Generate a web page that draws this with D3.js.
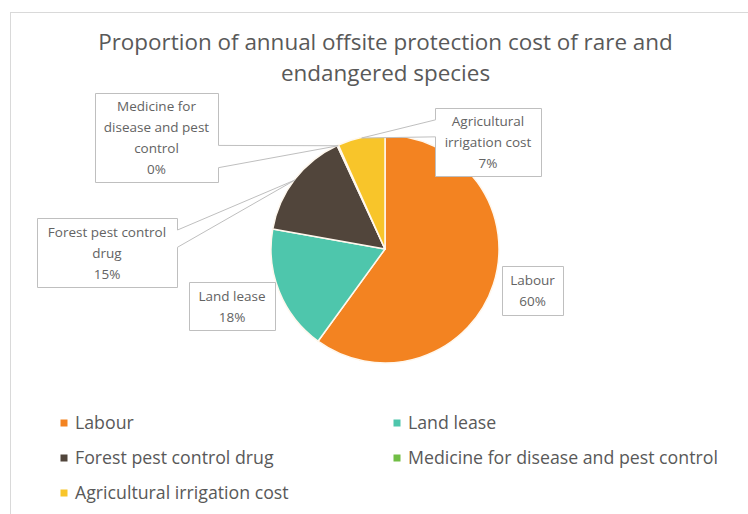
<!DOCTYPE html>
<html><head><meta charset="utf-8">
<script src="https://cdn.jsdelivr.net/npm/d3@7"></script>
<style>html,body{margin:0;padding:0;background:#fff;} svg{display:block;}</style>
</head><body>
<svg id="chart" width="748" height="514"></svg>
<script>
// ---- data ----
const titleLines = ["Proportion of annual offsite protection cost of rare and", "endangered species"];
const categories = ["Labour", "Land lease", "Forest pest control drug", "Medicine for disease and pest control", "Agricultural irrigation cost"];
const values = [60.0, 17.8, 15.3, 0.2, 6.7];
const colors = ["#F38321", "#4EC6AC", "#51453B", "#71BE45", "#F8C52A"];
const labelLines = [["Labour"], ["Land lease"], ["Forest pest control", "drug"], ["Medicine for", "disease and pest", "control"], ["Agricultural", "irrigation cost"]];

// ---- layout ----
const W = 748, H = 514;
const cx = 385, cy = 249, R = 114;
const labelBoxes = [
  {x: 502, y: 266, w: 61, h: 49},
  {x: 189, y: 282, w: 86, h: 48},
  {x: 37, y: 218, w: 140, h: 69},
  {x: 95, y: 93, w: 123, h: 89},
  {x: 435, y: 108, w: 106, h: 68}
];
const font = "'Open Sans', 'Noto Sans', sans-serif";
const svg = d3.select("#chart");

// outer chart border
svg.append("rect").attr("x", 10.5).attr("y", 12.5).attr("width", W + 20).attr("height", H + 20)
  .attr("fill", "#fff").attr("stroke", "#D9D9D9").attr("stroke-width", 1);

// fit helper
function fitSize(sel, target) {
  const fs = parseFloat(sel.attr("font-size"));
  const w = sel.node().getComputedTextLength();
  return fs * target / w;
}

// title
const title = svg.append("g");
const t1 = title.append("text").attr("x", 385.5).attr("y", 50).attr("text-anchor", "middle")
  .attr("font-family", font).attr("font-size", 20).attr("fill", "#595959").text(titleLines[0]);
const tfs = fitSize(t1, 575);
t1.attr("font-size", tfs);
title.append("text").attr("x", 385.5).attr("y", 81).attr("text-anchor", "middle")
  .attr("font-family", font).attr("font-size", tfs).attr("fill", "#595959").text(titleLines[1]);

// pie
const pie = d3.pie().sort(null).value(d => d)(values);
const arc = d3.arc().innerRadius(0).outerRadius(R);
const g = svg.append("g").attr("transform", `translate(${cx},${cy})`);
g.selectAll("path").data(pie).join("path")
  .attr("d", arc).attr("fill", (d, i) => colors[i])
  .attr("stroke", "#FFF8EE").attr("stroke-width", 1.5).attr("stroke-linejoin", "round");

// callout labels (wedgeRectCallout geometry)
function calloutPath(b, tx, ty) {
  const x = b.x, y = b.y, w = b.w, h = b.h;
  const hc = x + w / 2, vc = y + h / 2;
  const dx = tx - hc, dy = ty - vc;
  const inside = tx >= x - 12 && tx <= x + w + 12 && ty >= y - 12 && ty <= y + h + 12;
  const r = x + w, btm = y + h;
  if (inside) return `M${x},${y}H${r}V${btm}H${x}Z`;
  const dq = dx * h / w;
  const dz = Math.abs(dy) - Math.abs(dq);
  const xg1 = dx > 0 ? 7 : 2, xg2 = dx > 0 ? 10 : 5;
  const yg1 = dy > 0 ? 7 : 2, yg2 = dy > 0 ? 10 : 5;
  const x1 = x + w * xg1 / 12, x2 = x + w * xg2 / 12;
  const y1 = y + h * yg1 / 12, y2 = y + h * yg2 / 12;
  if (dz > 0) {
    if (dy < 0) return `M${x},${y}H${x1}L${tx},${ty}L${x2},${y}H${r}V${btm}H${x}Z`;
    return `M${x},${y}H${r}V${btm}H${x2}L${tx},${ty}L${x1},${btm}H${x}Z`;
  } else {
    if (dx < 0) return `M${x},${y}H${r}V${btm}H${x}V${y2}L${tx},${ty}L${x},${y1}Z`;
    return `M${x},${y}H${r}V${y1}L${tx},${ty}L${r},${y2}V${btm}H${x}Z`;
  }
}
const labelG = svg.append("g");
pie.forEach((d, i) => {
  const b = labelBoxes[i];
  const mid = (d.startAngle + d.endAngle) / 2;
  const tx = cx + R * Math.sin(mid), ty = cy - R * Math.cos(mid);
  labelG.append("path").attr("d", calloutPath(b, tx, ty))
    .attr("fill", "#fff").attr("stroke", "#BFBFBF").attr("stroke-width", 1)
    .attr("transform", "translate(0.5,0.5)");
  const lines = labelLines[i].concat([Math.round(values[i]) + "%"]);
  const vc = b.y + b.h / 2;
  lines.forEach((ln, k) => {
    labelG.append("text").attr("x", b.x + b.w / 2)
      .attr("y", vc + (k - (lines.length - 1) / 2) * 21 + 5)
      .attr("text-anchor", "middle").attr("font-family", font).attr("font-size", 13.5)
      .attr("fill", "#636363").text(ln);
  });
});

// legend
const legendPos = [[64, 423], [397, 423], [64, 458], [397, 458], [64, 493]];
const lg = svg.append("g");
let lfs = 15;
categories.forEach((c, i) => {
  const [lx, ly] = legendPos[i];
  lg.append("rect").attr("x", lx - 3.5).attr("y", ly - 3.5).attr("width", 7).attr("height", 7).attr("fill", colors[i]);
  const t = lg.append("text").attr("x", lx + 11).attr("y", ly + 5.5)
    .attr("font-family", font).attr("font-size", lfs).attr("fill", "#595959").text(c);
  if (i === 3) { lfs = fitSize(t, 310); }
});
lg.selectAll("text").attr("font-size", lfs);
</script>
</body></html>
